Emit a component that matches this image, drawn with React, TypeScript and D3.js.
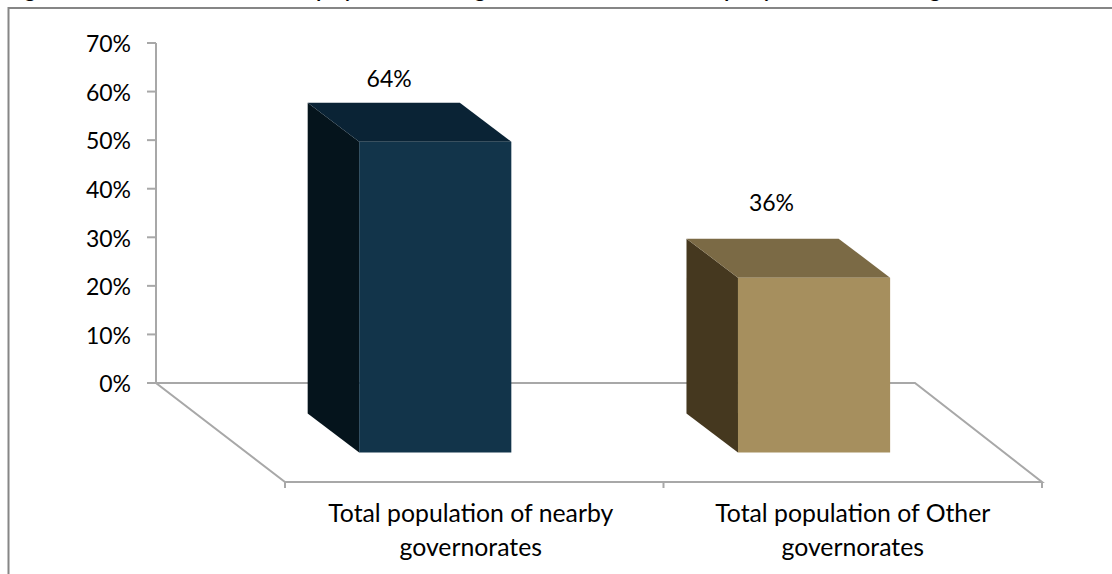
import React from "react";
import * as d3 from "d3";

const categories = ["nearby", "other"];
const values = [64, 36];
const categoryLines = [
  ["Total population of nearby", "governorates"],
  ["Total population of Other", "governorates"],
];
const yTicks = [0, 10, 20, 30, 40, 50, 60, 70];
const frontColors = ["#12344a", "#a68f5e"];
const topColors = ["#0a2335", "#7b6a45"];
const sideColors = ["#05141c", "#45381f"];
// Lower parts of the heading letters that stay visible above the frame.
const headingLetters = ["g", "p", "y", "g", "p", "y", "g"];
const headingLetterX = [30, 322, 349, 480, 730, 768, 935];

const WIDTH = 1112;
const HEIGHT = 574;
const FONT = "Lato, 'Open Sans', sans-serif";
const AXIS_GRAY = "#a8a8a8";

// Oblique projection of the floor: depth moves points left and up.
const FLOOR_BACK_Y = 383;
const FLOOR_FRONT_Y = 482;
const FLOOR_LEFT_SHIFT = 129;
const FLOOR_RIGHT_SHIFT = 127;
const BAR_FRONT_DROP = 69.5;
const BAR_DEPTH_X = 51.5;
const BAR_DEPTH_Y = 39;
const BAR_FRONT_SHIFT = 39;

// Per-bar placement adjustments
const barNudgeX = [0, 0.3];
const valueLabelX = [81.5, 85];
const valueLabelRise = [24, 36];
const categoryNudgeX = [-3.5, 0];

const y = d3.scaleLinear().domain([0, 70]).range([FLOOR_BACK_Y, 43]);
const x = d3.scaleBand<string>().domain(categories).range([285, 1042]);
const barWidth = x.bandwidth() * 0.402;

const poly = (pts: [number, number][]) => d3.line()(pts) + "Z";

export default function App() {
  const frontLeft = x.range()[0];
  const frontRight = x.range()[1];
  const axisX = frontLeft - FLOOR_LEFT_SHIFT;
  return (
    <svg
      width={WIDTH}
      height={HEIGHT}
      viewBox={`0 0 ${WIDTH} ${HEIGHT}`}
      style={{ position: "absolute", left: 0, top: 0, background: "#fff" }}
      fontFamily={FONT}
    >
      {headingLetters.map((ch, i) => (
        <text key={i} x={headingLetterX[i]} y={-3} fontSize={20} fontWeight={700} textAnchor="middle" fill="#000">
          {ch}
        </text>
      ))}

      <path d="M8.5 574V8H1112" fill="none" stroke="#868686" strokeWidth={2} />

      {/* Floor outline */}
      <path
        d={poly([
          [axisX, FLOOR_BACK_Y],
          [frontRight - FLOOR_RIGHT_SHIFT, FLOOR_BACK_Y],
          [frontRight, FLOOR_FRONT_Y],
          [frontLeft, FLOOR_FRONT_Y],
        ])}
        fill="none"
        stroke={AXIS_GRAY}
        strokeWidth={2}
      />
      {[...categories.map((c) => x(c)!), frontRight].map((t, i) => (
        <line key={i} x1={t} x2={t} y1={FLOOR_FRONT_Y} y2={488} stroke={AXIS_GRAY} strokeWidth={2} />
      ))}

      {/* Value axis */}
      <line x1={axisX} x2={axisX} y1={y(70)} y2={y(0)} stroke={AXIS_GRAY} strokeWidth={2} />
      {yTicks.map((t) => (
        <g key={t}>
          <line x1={147} x2={axisX} y1={y(t)} y2={y(t)} stroke={AXIS_GRAY} strokeWidth={2} />
          <text x={131} y={y(t) + 1} dy="0.36em" textAnchor="end" fontSize={23} fill="#000">
            {t}%
          </text>
        </g>
      ))}

      {/* Bars */}
      {categories.map((c, i) => {
        const left = x(c)! + x.bandwidth() / 2 - BAR_FRONT_SHIFT - barWidth / 2 + barNudgeX[i];
        const right = left + barWidth;
        const top = y(values[i]) + BAR_FRONT_DROP;
        const bottom = y(0) + BAR_FRONT_DROP;
        const backLeft = left - BAR_DEPTH_X;
        const backRight = right - BAR_DEPTH_X;
        const backTop = top - BAR_DEPTH_Y;
        const backBottom = bottom - BAR_DEPTH_Y;
        return (
          <g key={c}>
            <path d={poly([[backLeft, backTop], [left, top], [left, bottom], [backLeft, backBottom]])} fill={sideColors[i]} />
            <path d={poly([[backLeft, backTop], [backRight, backTop], [right, top], [left, top]])} fill={topColors[i]} />
            <path d={poly([[left, top], [right, top], [right, bottom], [left, bottom]])} fill={frontColors[i]} />
            <text x={backLeft + valueLabelX[i]} y={backTop - valueLabelRise[i]} dy="0.36em" textAnchor="middle" fontSize={23} fill="#000">
              {values[i]}%
            </text>
          </g>
        );
      })}

      {/* Category labels */}
      {categories.map((c, i) =>
        categoryLines[i].map((line, j) => (
          <text
            key={c + j}
            x={x(c)! + x.bandwidth() / 2 + categoryNudgeX[i]}
            y={513 + j * 34}
            dy="0.36em"
            textAnchor="middle"
            fontSize={24.8}
            fill="#000"
          >
            {line}
          </text>
        ))
      )}
    </svg>
  );
}
